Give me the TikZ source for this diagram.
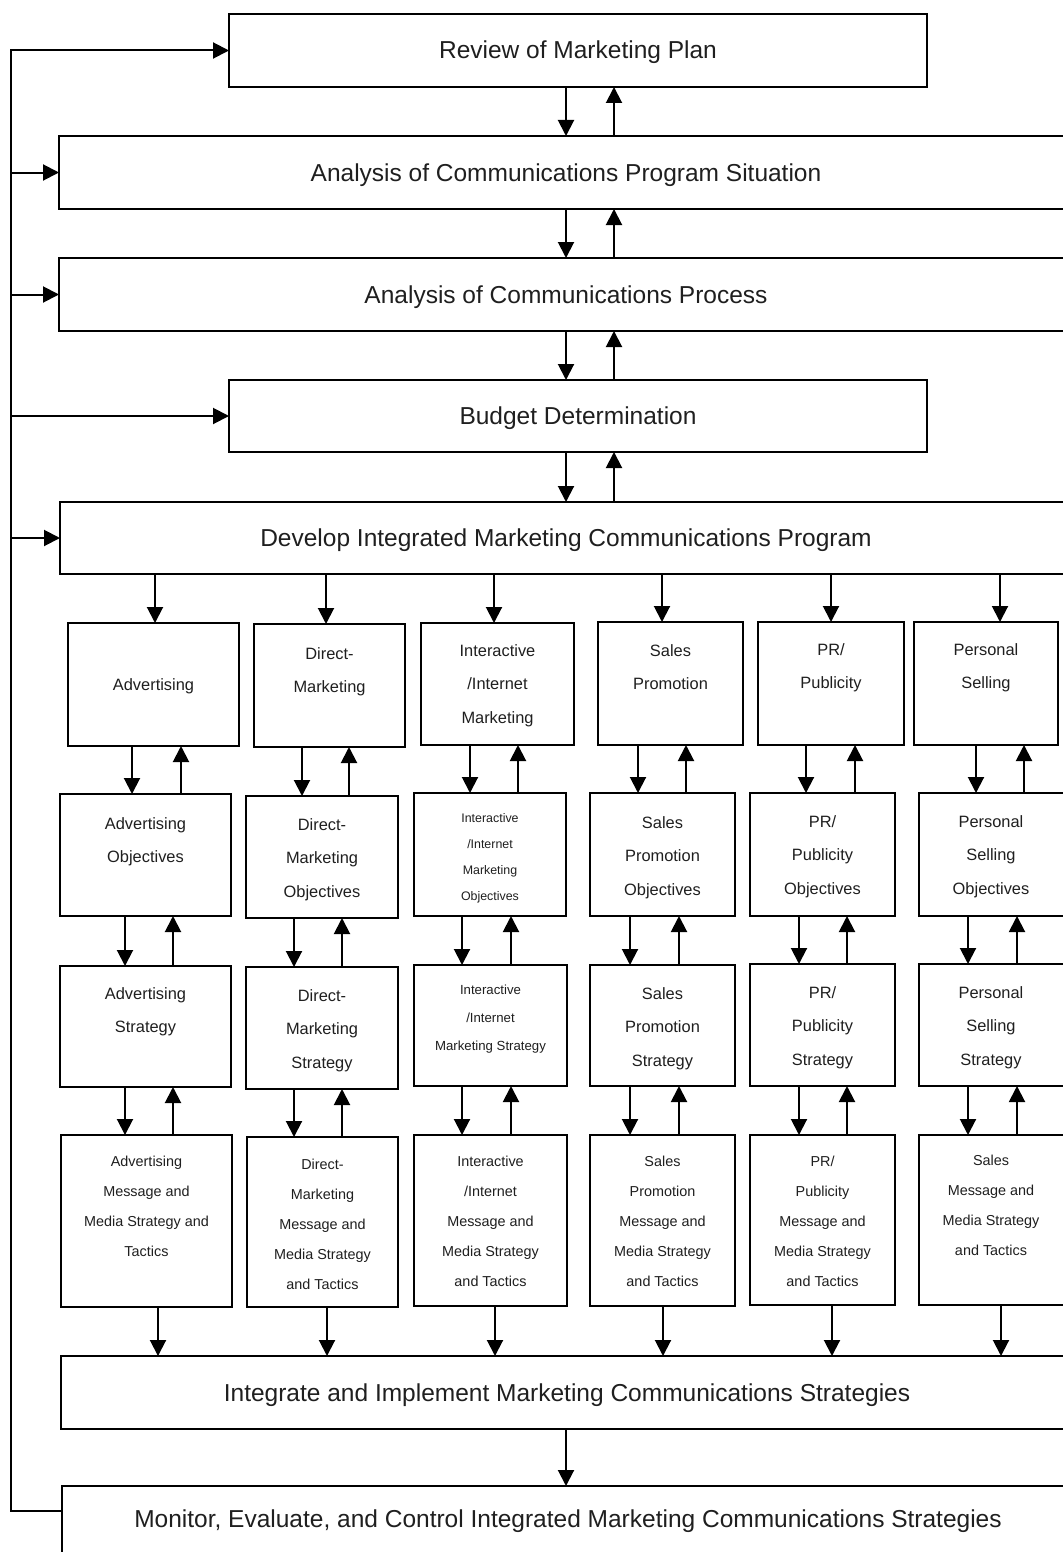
\documentclass[tikz,border=0pt]{standalone}
\usepackage{fontspec}
\setmainfont{Liberation Sans}
\usetikzlibrary{arrows.meta}

% box: corners given in pixel units (x1,y1) -- (x2,y2)
\newcommand\bx[5]{\node[boxst, minimum width={(#4-#2)*0.5pt}, minimum height={(#5-#3)*0.5pt}] (#1) at ({(#2+#4)/2},{(#3+#5)/2}) {};}
% text: name, style, x, baseline of the first line, lines
\newcommand\tx[5]{\node[#2, anchor=base] (#1) at (#3,#4) {\begin{tabular}[t]{@{}c@{}}#5\end{tabular}};}
% downward and upward links between two stacked boxes at a given x
\newcommand\dn[3]{\draw[arr] (#1.south -| #3,0) -- (#2.north -| #3,0);}
\newcommand\up[3]{\draw[arr] (#2.north -| #3,0) -- (#1.south -| #3,0);}

\tikzset{
  boxst/.style={draw=black, line width=1pt, inner sep=0pt, outer sep=0pt, fill=white},
  arr/.style={line width=1pt, -{Triangle[length=8pt,width=8pt]}},
  big/.style={inner sep=0pt, text=black!88, font=\fontsize{12.25}{14}\selectfont},
  col/.style={inner sep=0pt, text=black!88, font=\fontsize{8.2}{16.75}\selectfont},
  colsm/.style={inner sep=0pt, text=black!88, font=\fontsize{6.2}{13}\selectfont},
  colmd/.style={inner sep=0pt, text=black!88, font=\fontsize{6.6}{14}\selectfont},
  colmm/.style={inner sep=0pt, text=black!88, font=\fontsize{7.2}{15}\selectfont},
}

\begin{document}
\begin{tikzpicture}[x=0.5pt, y=-0.5pt]
\useasboundingbox (0,0) rectangle (1063,1552);
\fill[white] (0,0) rectangle (1063,1552);
\clip (0,0) rectangle (1063,1552);

% main stages
\bx{rev}{229}{14}{927}{87}
\bx{sit}{59}{136}{1072}{209}
\bx{proc}{59}{258}{1072}{331}
\bx{bud}{229}{380}{927}{452}
\bx{dev}{60}{502}{1072}{574}
\bx{integ}{61}{1356}{1072}{1429}
\bx{mon}{62}{1486}{1072}{1560}

\tx{revt}{big}{578}{59}{Review of Marketing Plan}
\tx{sitt}{big}{566}{181}{Analysis of Communications Program Situation}
\tx{proct}{big}{566}{303}{Analysis of Communications Process}
\tx{budt}{big}{578}{424.5}{Budget Determination}
\tx{devt}{big}{566}{546.5}{Develop Integrated Marketing Communications Program}
\tx{integt}{big}{567}{1401}{Integrate and Implement Marketing Communications Strategies}
\tx{mont}{big}{568}{1527}{Monitor, Evaluate, and Control Integrated Marketing Communications Strategies}

% links between main stages
\dn{rev}{sit}{566}\up{rev}{sit}{614}
\dn{sit}{proc}{566}\up{sit}{proc}{614}
\dn{proc}{bud}{566}\up{proc}{bud}{614}
\dn{bud}{dev}{566}\up{bud}{dev}{614}
\dn{integ}{mon}{566}

% row 1: communication tools
\bx{a1}{68}{623}{239}{746}
\bx{b1}{254}{624}{405}{747}
\bx{c1}{421}{623}{574}{745}
\bx{d1}{598}{622}{743}{745}
\bx{e1}{758}{622}{904}{745}
\bx{f1}{914}{622}{1058}{745}

\tx{a1t}{col}{153.5}{690}{Advertising}
\tx{b1t}{col}{329.5}{659}{Direct-\\Marketing}
\tx{c1t}{col}{497.5}{656}{Interactive\\/Internet\\Marketing}
\tx{d1t}{col}{670.5}{656}{Sales\\Promotion}
\tx{e1t}{col}{831}{655}{PR/\\Publicity}
\tx{f1t}{col}{986}{655}{Personal\\Selling}

% row 2: objectives
\bx{a2}{60}{794}{231}{916}
\bx{b2}{246}{796}{398}{918}
\bx{c2}{414}{793}{566}{916}
\bx{d2}{590}{793}{735}{916}
\bx{e2}{750}{793}{895}{916}
\bx{f2}{919}{793}{1070}{916}

\tx{a2t}{col}{145.5}{829}{Advertising\\Objectives}
\tx{b2t}{col}{322}{830}{Direct-\\Marketing\\Objectives}
\tx{c2t}{colsm}{490}{822}{Interactive\\/Internet\\Marketing\\Objectives}
\tx{d2t}{col}{662.5}{828}{Sales\\Promotion\\Objectives}
\tx{e2t}{col}{822.5}{827}{PR/\\Publicity\\Objectives}
\tx{f2t}{col}{991}{827}{Personal\\Selling\\Objectives}

% row 3: strategies
\bx{a3}{60}{966}{231}{1087}
\bx{b3}{246}{967}{398}{1089}
\bx{c3}{414}{965}{567}{1086}
\bx{d3}{590}{965}{735}{1086}
\bx{e3}{750}{964}{895}{1086}
\bx{f3}{919}{964}{1070}{1086}

\tx{a3t}{col}{145.5}{999}{Advertising\\Strategy}
\tx{b3t}{col}{322}{1001}{Direct-\\Marketing\\Strategy}
\tx{c3t}{colmd}{490.5}{994}{Interactive\\/Internet\\Marketing Strategy}
\tx{d3t}{col}{662.5}{999}{Sales\\Promotion\\Strategy}
\tx{e3t}{col}{822.5}{998}{PR/\\Publicity\\Strategy}
\tx{f3t}{col}{991}{998}{Personal\\Selling\\Strategy}

% row 4: message, media and tactics
\bx{a4}{61}{1135}{232}{1307}
\bx{b4}{247}{1137}{398}{1307}
\bx{c4}{414}{1135}{567}{1306}
\bx{d4}{590}{1135}{735}{1306}
\bx{e4}{750}{1135}{895}{1305}
\bx{f4}{919}{1135}{1070}{1305}

\tx{a4t}{colmm}{146.5}{1166}{Advertising\\Message and\\Media Strategy and\\Tactics}
\tx{b4t}{colmm}{322.5}{1169}{Direct-\\Marketing\\Message and\\Media Strategy\\and Tactics}
\tx{c4t}{colmm}{490.5}{1166}{Interactive\\/Internet\\Message and\\Media Strategy\\and Tactics}
\tx{d4t}{colmm}{662.5}{1166}{Sales\\Promotion\\Message and\\Media Strategy\\and Tactics}
\tx{e4t}{colmm}{822.5}{1166}{PR/\\Publicity\\Message and\\Media Strategy\\and Tactics}
\tx{f4t}{colmm}{991}{1165}{Sales\\Message and\\Media Strategy\\and Tactics}

% program to tools, tools to integration
\dn{dev}{a1}{155}\dn{dev}{b1}{326}\dn{dev}{c1}{494}
\dn{dev}{d1}{662}\dn{dev}{e1}{831}\dn{dev}{f1}{1000}
\dn{a4}{integ}{158}\dn{b4}{integ}{327}\dn{c4}{integ}{495}
\dn{d4}{integ}{663}\dn{e4}{integ}{832}\dn{f4}{integ}{1001}

% column links
\dn{a1}{a2}{132}\up{a1}{a2}{181}
\dn{a2}{a3}{125}\up{a2}{a3}{173}
\dn{a3}{a4}{125}\up{a3}{a4}{173}
\dn{b1}{b2}{302}\up{b1}{b2}{349}
\dn{b2}{b3}{294}\up{b2}{b3}{342}
\dn{b3}{b4}{294}\up{b3}{b4}{342}
\dn{c1}{c2}{470}\up{c1}{c2}{518}
\dn{c2}{c3}{462}\up{c2}{c3}{511}
\dn{c3}{c4}{462}\up{c3}{c4}{511}
\dn{d1}{d2}{638}\up{d1}{d2}{686}
\dn{d2}{d3}{630}\up{d2}{d3}{679}
\dn{d3}{d4}{630}\up{d3}{d4}{679}
\dn{e1}{e2}{806}\up{e1}{e2}{855}
\dn{e2}{e3}{799}\up{e2}{e3}{847}
\dn{e3}{e4}{799}\up{e3}{e4}{847}
\dn{f1}{f2}{976}\up{f1}{f2}{1024}
\dn{f2}{f3}{968}\up{f2}{f3}{1017}
\dn{f3}{f4}{968}\up{f3}{f4}{1017}

% feedback loop from control back to every planning stage
\coordinate (fb) at (11,0);
\draw[arr] ([yshift=-12.5pt]mon.north west) -| (rev.west -| fb) -- (rev.west);
\draw[arr] (sit.west -| fb) -- (sit.west);
\draw[arr] (proc.west -| fb) -- (proc.west);
\draw[arr] (bud.west -| fb) -- (bud.west);
\draw[arr] (dev.west -| fb) -- (dev.west);
\end{tikzpicture}
\end{document}
